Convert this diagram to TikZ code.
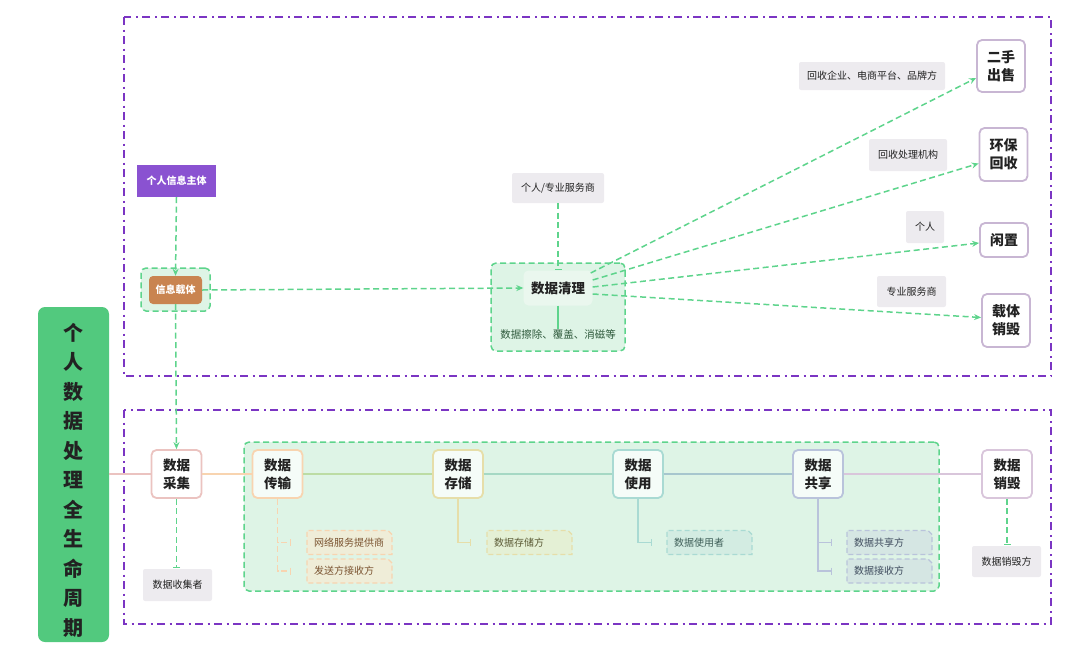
\documentclass[tikz,border=0pt]{standalone}
\usepackage{fontspec}
\setmainfont{Noto Sans CJK SC}
\usetikzlibrary{arrows.meta,shapes.misc}
\definecolor{pframe}{HTML}{7B35C3}
\definecolor{bigg}{HTML}{52C97E}
\definecolor{gdash}{HTML}{5ED48C}
\definecolor{gfill}{HTML}{DEF4E6}
\definecolor{subj}{HTML}{8A52D1}
\definecolor{carrier}{HTML}{C98450}
\definecolor{lgray}{HTML}{EDEBEF}
\definecolor{rborder}{HTML}{C8B6D3}
\definecolor{cpink}{HTML}{EBC3C0}
\definecolor{corange}{HTML}{F8D4B0}
\definecolor{cyellow}{HTML}{E6DEA9}
\definecolor{cteal}{HTML}{A9DAD3}
\definecolor{cblue}{HTML}{B9C3DB}
\definecolor{clilac}{HTML}{D9C6DB}
\definecolor{lgreen}{HTML}{BCDCA4}
\definecolor{lteal}{HTML}{A5D8C4}
\definecolor{lblue}{HTML}{A7C6CE}
\definecolor{txt}{HTML}{222222}
\definecolor{nfo}{HTML}{EFEDD8}
\definecolor{nty}{HTML}{7A5330}
\definecolor{nfy}{HTML}{E4F0D5}
\definecolor{nyt}{HTML}{5B5A35}
\definecolor{nft}{HTML}{D3ECE2}
\definecolor{ntt}{HTML}{3E5E58}
\definecolor{nfb}{HTML}{D5E6E3}
\definecolor{nbt}{HTML}{3F4C5E}
\definecolor{cleanfill}{HTML}{EAF7EE}
\definecolor{erasetxt}{HTML}{2F5A3C}
\begin{document}
\begin{tikzpicture}[x=1pt,y=-1pt,
  frame/.style={draw=pframe,line width=2pt,dash pattern=on 8pt off 4.5pt on 2pt off 4.5pt},
  gline/.style={draw=gdash,line width=1.5pt,dash pattern=on 6pt off 3.5pt},
  tipa/.style={-{Stealth[length=7pt,width=6pt]}},
  tipb/.style={-{Bar[width=7pt,line width=1.2pt]}},
  gbox/.style={draw=gdash,fill=gfill,line width=1.5pt,dash pattern=on 6pt off 3.5pt,rounded corners=5pt,inner sep=0pt},
  stage/.style={draw,line width=1.8pt,rounded corners=5pt,fill=white,minimum width=50pt,minimum height=48pt,align=center,inner sep=0pt,text=txt,font=\bfseries\fontsize{13.5}{18}\selectfont},
  dest/.style={draw=rborder,line width=1.8pt,rounded corners=5pt,fill=white,minimum width=48pt,align=center,inner sep=0pt,text=txt,font=\bfseries\fontsize{14}{18}\selectfont},
  glabel/.style={fill=lgray,rounded corners=2pt,inner sep=0pt,text=txt,font=\fontsize{10}{12}\selectfont},
  note/.style={chamfered rectangle,chamfered rectangle corners=north east,chamfered rectangle xsep=2pt,chamfered rectangle ysep=2pt,line width=1.2pt,dash pattern=on 5pt off 3pt,minimum width=81pt,minimum height=24pt,text width=71pt,align=left,inner xsep=5pt,inner ysep=0pt,font=\fontsize{10}{12}\selectfont},
  seg/.style={line width=1.8pt},
  tline/.style={line width=1.5pt}
]
\useasboundingbox (0,0) rectangle (1080,654);

% frames
\draw[frame] (124,17) rectangle (1051,376);
\draw[frame] (124,410) rectangle (1051,624);

% big left box
\node[fill=bigg,rounded corners=7pt,minimum width=71pt,minimum height=335pt,inner sep=0pt] (big) at (73.5,474.5) {};
\node[align=center,text=txt,font=\bfseries\fontsize{20}{29.5}\selectfont,inner sep=0pt] (bigt) at (73.5,480)
  {个\\人\\数\\据\\处\\理\\全\\生\\命\\周\\期};

% top section
\node[fill=subj,minimum width=79pt,minimum height=32pt,inner sep=0pt,text=white,font=\bfseries\fontsize{10}{12}\selectfont] (subj) at (176.5,181) {个人信息主体};
\node[gbox,minimum width=69pt,minimum height=43pt] (g1) at (175.5,289.5) {};
\node[fill=carrier,rounded corners=4pt,minimum width=53pt,minimum height=28pt,inner sep=0pt,text=white,font=\bfseries\fontsize{10}{12}\selectfont] (carrier) at (175.5,290) {信息载体};

\node[gbox,minimum width=134pt,minimum height=88pt] (g2) at (558,307) {};
\node[fill=cleanfill,rounded corners=5pt,minimum width=69pt,minimum height=35pt,inner sep=0pt,text=txt,font=\bfseries\fontsize{13.5}{16}\selectfont] (clean) at (558,288) {数据清理};
\node[inner sep=0pt,text=erasetxt,font=\fontsize{10.5}{12}\selectfont] (erase) at (558,334) {数据擦除、覆盖、消磁等};
\node[glabel,minimum width=92pt,minimum height=30pt] (svc) at (558,188) {个人/专业服务商};

\node[dest,minimum height=52pt] (sale) at (1001,66) {二手\\出售};
\node[dest,minimum height=53pt] (recy) at (1003.5,154.5) {环保\\回收};
\node[dest,minimum height=34pt] (idle) at (1004,240) {闲置};
\node[dest,minimum height=53pt] (dest) at (1006,320.5) {载体\\销毁};

\node[glabel,minimum width=146pt,minimum height=28pt] (l1) at (872,76) {回收企业、电商平台、品牌方};
\node[glabel,minimum width=78pt,minimum height=32pt] (l2) at (908,155) {回收处理机构};
\node[glabel,minimum width=38pt,minimum height=32pt] (l3) at (925,227) {个人};
\node[glabel,minimum width=69pt,minimum height=31pt] (l4) at (911.5,291.5) {专业服务商};

\draw[gline,tipa] (subj.south) -- (carrier.north);
\draw[gline,tipa] (carrier.east) -- (clean.west);
\draw[gline,tipb] (svc.south) -- (clean.north);
\draw[draw=gdash,line width=1.5pt] (clean.south) -- (erase.north);
\draw[gline,tipa] ([xshift=-2pt,yshift=15pt]clean.east) -- ([yshift=-12pt]sale.west);
\draw[gline,tipa] ([yshift=8pt]clean.east) -- ([yshift=-9pt]recy.west);
\draw[gline,tipa] ([yshift=1pt]clean.east) -- ([yshift=-3pt]idle.west);
\draw[gline,tipa] ([yshift=-6pt]clean.east) -- ([yshift=3pt]dest.west);

% bottom section
\node[gbox,minimum width=695pt,minimum height=149pt] (g3) at (591.5,516.5) {};

\node[stage,draw=cpink] (s1) at (176.5,474) {数据\\采集};
\node[stage,draw=corange,fill=white!70!gfill] (s2) at (277.5,474) {数据\\传输};
\node[stage,draw=cyellow,fill=white!70!gfill] (s3) at (458,474) {数据\\存储};
\node[stage,draw=cteal,fill=white!70!gfill] (s4) at (638,474) {数据\\使用};
\node[stage,draw=cblue,fill=white!70!gfill] (s5) at (818,474) {数据\\共享};
\node[stage,draw=clilac] (s6) at (1007,474) {数据\\销毁};

\draw[seg,draw=cpink] (big.east |- s1.west) -- (s1.west);
\draw[seg,draw=corange] (s1.east) -- (s2.west);
\draw[seg,draw=lgreen] (s2.east) -- (s3.west);
\draw[seg,draw=lteal] (s3.east) -- (s4.west);
\draw[seg,draw=lblue] (s4.east) -- (s5.west);
\draw[seg,draw=clilac] (s5.east) -- (s6.west);

\draw[gline,tipa] (carrier.south) -- (s1.north);

\node[glabel,minimum width=69pt,minimum height=32pt] (collector) at (177.5,585) {数据收集者};
\node[glabel,minimum width=69pt,minimum height=31pt] (destroyer) at (1006.5,561.5) {数据销毁方};
\coordinate (c1) at (176.5,568);
\coordinate (c6) at (1007,545);
\draw[gline,tipb] (s1.south) -- (c1);
\draw[gline,tipb] (s6.south) -- (c6);

% notes
\node[note,draw=corange,fill=nfo,text=nty] (n1) at (349.5,542.5) {网络服务提供商};
\node[note,draw=corange,fill=nfo,text=nty] (n2) at (349.5,571) {发送方接收方};
\node[note,draw=cyellow,fill=nfy,text=nyt] (n3) at (529.5,542.5) {数据存储方};
\node[note,draw=cteal,fill=nft,text=ntt] (n4) at (709.5,542.5) {数据使用者};
\node[note,draw=cblue,fill=nfb,text=nbt] (n5) at (889.5,542.5) {数据共享方};
\node[note,draw=cblue,fill=nfb,text=nbt] (n6) at (889.5,571) {数据接收方};

% tree connectors
\draw[tline,draw=corange,dash pattern=on 6pt off 3.5pt,tipb] (s2.south) |- ([xshift=-15pt]n1.west);
\draw[tline,draw=corange,dash pattern=on 6pt off 3.5pt,tipb] (s2.south) |- ([xshift=-15pt]n2.west);
\draw[tline,draw=cyellow,tipb] (s3.south) |- ([xshift=-15pt]n3.west);
\draw[tline,draw=cteal,tipb] (s4.south) |- ([xshift=-14pt]n4.west);
\draw[tline,draw=cblue,tipb] (s5.south) |- ([xshift=-14pt]n5.west);
\draw[tline,draw=cblue,tipb] (s5.south) |- ([xshift=-14pt]n6.west);
\end{tikzpicture}
\end{document}
